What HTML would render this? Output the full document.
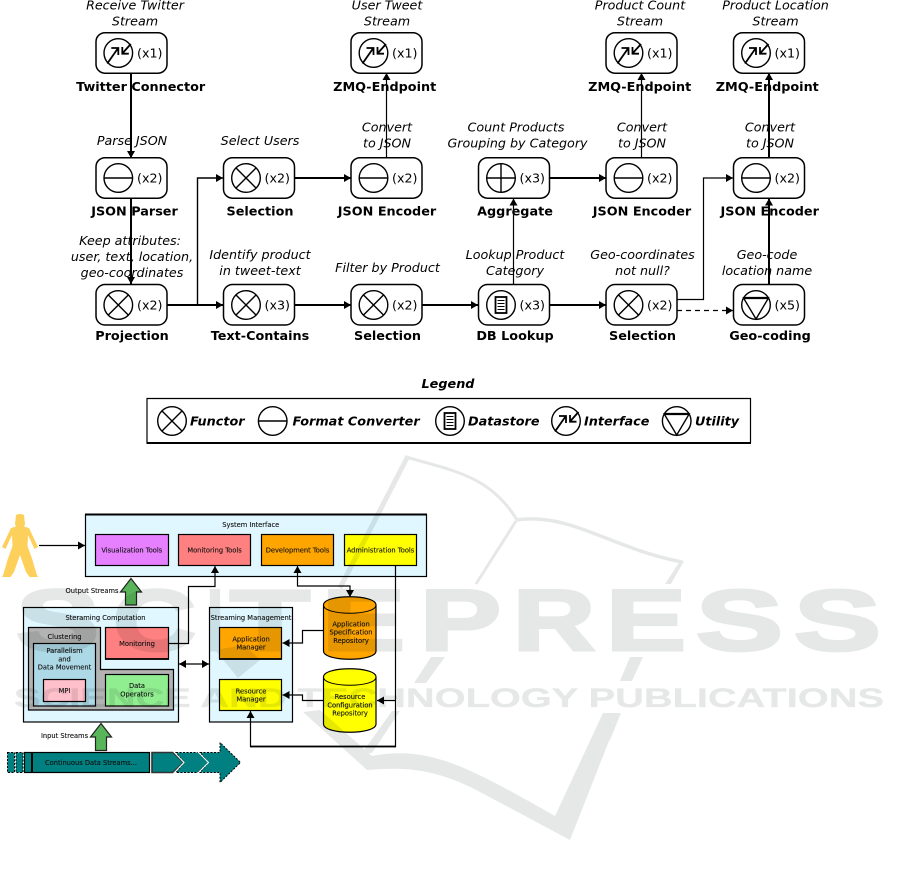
<!DOCTYPE html>
<html><head><meta charset="utf-8"><style>
html,body{margin:0;padding:0;background:#fff}
svg{display:block}
text{font-family:"DejaVu Sans",sans-serif;fill:#000}
.n{font-size:12.7px;text-anchor:middle;font-style:italic}
.b{font-size:12.8px;text-anchor:middle;font-weight:bold}
.c{font-size:12.7px;text-anchor:start}
.l{font-size:12.8px;font-weight:bold;font-style:italic}
.s{font-size:6.7px;text-anchor:middle;fill:#111;stroke:#111;stroke-width:.12}
.box{fill:#fff;stroke:#000;stroke-width:1.5}
.ic{fill:none;stroke:#000;stroke-width:1.4}
.t{fill:none;stroke:#000;stroke-width:1.2}
.k{fill:none;stroke:#000;stroke-width:2}
.d{stroke:#000;stroke-width:1.2}
.wm{font-family:"Liberation Sans",sans-serif;font-weight:bold;fill:#e6e8e7;stroke:#e6e8e7}
</style></head><body>
<svg width="901" height="881" viewBox="0 0 901 881" xmlns="http://www.w3.org/2000/svg">
<defs>
<marker id="a" viewBox="0 0 7 8" refX="7" refY="4" markerWidth="7" markerHeight="8" markerUnits="userSpaceOnUse" orient="auto-start-reverse"><path d="M0 0L7 4L0 8z" fill="#000"/></marker>
<g id="fun"><circle r="14.3" class="ic"/><path d="M-10.1-10.1L10.1 10.1M-10.1 10.1L10.1-10.1" class="ic"/></g>
<g id="fmt"><circle r="14.3" class="ic"/><path d="M-14.3 0H14.3" class="ic"/></g>
<g id="agg"><circle r="14.3" class="ic"/><path d="M-14.3 0H14.3M0-14.3V14.3" class="ic"/></g>
<g id="int"><circle r="14.3" class="ic"/><path d="M-11 10.500L-.5-4.500M-7-5H0V2" class="ic" style="stroke-width:1.8"/><path d="M12.500-9L4 .5M4-6V.7H10.500" class="ic" style="stroke-width:1.8"/></g>
<g id="dbs"><circle r="14.3" class="ic"/><rect x="-5.500" y="-8" width="11" height="16" fill="#fff" stroke="#000" style="stroke-width:1.8"/><path d="M-3.500-4.500H3.500M-3.500-1.500H3.500M-3.500 1.500H3.500M-3.500 4.500H3.500" class="ic" style="stroke-width:1"/></g>
<g id="utl"><circle r="14.3" class="ic"/><path d="M-12.500-7H12.500L0 14z" class="ic"/><path d="M-12.500-7H12.500" class="ic" style="stroke-width:2.2"/></g>
<rect id="nd" width="71" height="40.500" rx="9" ry="9" class="box"/>
</defs>

<!-- connectors top -->
<path d="M131 73V158" class="k" marker-end="url(#a)"/>
<path d="M131 198V284" class="k" marker-end="url(#a)"/>
<path d="M167 305H223" class="k" marker-end="url(#a)"/>
<path d="M197.500 305V178H223" class="k" style="stroke-width:1.4" marker-end="url(#a)"/>
<path d="M285 178H351" class="k" marker-end="url(#a)"/>
<path d="M386.500 158V73" class="t" marker-end="url(#a)"/>
<path d="M294 305H351" class="k" marker-end="url(#a)"/>
<path d="M422 305H478" class="k" marker-end="url(#a)"/>
<path d="M549 305H606" class="k" marker-end="url(#a)"/>
<path d="M513.500 284V198.500" class="t" marker-end="url(#a)"/>
<path d="M549 178H606" class="k" marker-end="url(#a)"/>
<path d="M641.500 158V73" class="t" marker-end="url(#a)"/>
<path d="M677 299.500H703.500V178H733" class="t" marker-end="url(#a)"/>
<path d="M677 310.500H733" class="t" stroke-dasharray="5 4" marker-end="url(#a)"/>
<path d="M769 284V198.500" class="k" marker-end="url(#a)"/>
<path d="M769 158V73" class="k" marker-end="url(#a)"/>

<!-- nodes -->
<g>
<use href="#nd" x="96" y="32.700"/><use href="#int" x="118.300" y="53"/><text class="c" x="137" y="57.500">(x1)</text>
<use href="#nd" x="351" y="32.700"/><use href="#int" x="373.500" y="53"/><text class="c" x="392" y="57.500">(x1)</text>
<use href="#nd" x="606" y="32.700"/><use href="#int" x="628.500" y="53"/><text class="c" x="647" y="57.500">(x1)</text>
<use href="#nd" x="733.500" y="32.700"/><use href="#int" x="756" y="53"/><text class="c" x="774.500" y="57.500">(x1)</text>

<use href="#nd" x="96" y="157.700"/><use href="#fmt" x="118.300" y="178"/><text class="c" x="137" y="182.500">(x2)</text>
<use href="#nd" x="223.500" y="157.700"/><use href="#fun" x="246" y="178"/><text class="c" x="264.500" y="182.500">(x2)</text>
<use href="#nd" x="351" y="157.700"/><use href="#fmt" x="373.500" y="178"/><text class="c" x="392" y="182.500">(x2)</text>
<use href="#nd" x="478.500" y="157.700"/><use href="#agg" x="501" y="178"/><text class="c" x="519.500" y="182.500">(x3)</text>
<use href="#nd" x="606" y="157.700"/><use href="#fmt" x="628.500" y="178"/><text class="c" x="647" y="182.500">(x2)</text>
<use href="#nd" x="733.500" y="157.700"/><use href="#fmt" x="756" y="178"/><text class="c" x="774.500" y="182.500">(x2)</text>

<use href="#nd" x="96" y="284.500"/><use href="#fun" x="118.300" y="305"/><text class="c" x="137" y="309.500">(x2)</text>
<use href="#nd" x="223.500" y="284.500"/><use href="#fun" x="246" y="305"/><text class="c" x="264.500" y="309.500">(x3)</text>
<use href="#nd" x="351" y="284.500"/><use href="#fun" x="373.500" y="305"/><text class="c" x="392" y="309.500">(x2)</text>
<use href="#nd" x="478.500" y="284.500"/><use href="#dbs" x="501" y="305"/><text class="c" x="519.500" y="309.500">(x3)</text>
<use href="#nd" x="606" y="284.500"/><use href="#fun" x="628.500" y="305"/><text class="c" x="647" y="309.500">(x2)</text>
<use href="#nd" x="733.500" y="284.500"/><use href="#utl" x="756" y="305"/><text class="c" x="774.500" y="309.500">(x5)</text>
</g>

<!-- top labels -->
<g>
<text class="n" x="135" y="9.500">Receive Twitter</text><text class="n" x="135" y="25.500">Stream</text>
<text class="n" x="387" y="9.500">User Tweet</text><text class="n" x="387" y="25.500">Stream</text>
<text class="n" x="640" y="9.500">Product Count</text><text class="n" x="640" y="25.500">Stream</text>
<text class="n" x="775.500" y="9.500">Product Location</text><text class="n" x="775.500" y="25.500">Stream</text>
<text class="n" x="132" y="145">Parse JSON</text>
<text class="n" x="260" y="145">Select Users</text>
<text class="n" x="387" y="131.500">Convert</text><text class="n" x="387" y="147.500">to JSON</text>
<text class="n" x="516" y="131.500">Count Products</text><text class="n" x="517.500" y="147.500">Grouping by Category</text>
<text class="n" x="642" y="131.500">Convert</text><text class="n" x="642" y="147.500">to JSON</text>
<text class="n" x="770" y="131.500">Convert</text><text class="n" x="770" y="147.500">to JSON</text>
<text class="n" x="130" y="245">Keep attributes:</text><text class="n" x="132" y="261">user, text, location,</text><text class="n" x="132" y="277">geo-coordinates</text>
<text class="n" x="260" y="259">Identify product</text><text class="n" x="260" y="275">in tweet-text</text>
<text class="n" x="387.500" y="272">Filter by Product</text>
<text class="n" x="515" y="259">Lookup Product</text><text class="n" x="515" y="275">Category</text>
<text class="n" x="642.500" y="259">Geo-coordinates</text><text class="n" x="642.500" y="275">not null?</text>
<text class="n" x="767" y="259">Geo-code</text><text class="n" x="767" y="275">location name</text>

<text class="b" x="140.700" y="91">Twitter Connector</text>
<text class="b" x="384.700" y="91">ZMQ-Endpoint</text>
<text class="b" x="639.700" y="91">ZMQ-Endpoint</text>
<text class="b" x="767.300" y="91">ZMQ-Endpoint</text>
<text class="b" x="134.500" y="215.500">JSON Parser</text>
<text class="b" x="260" y="215.500">Selection</text>
<text class="b" x="387" y="215.500">JSON Encoder</text>
<text class="b" x="515" y="215.500">Aggregate</text>
<text class="b" x="642" y="215.500">JSON Encoder</text>
<text class="b" x="769.700" y="215.500">JSON Encoder</text>
<text class="b" x="132" y="340">Projection</text>
<text class="b" x="260" y="340">Text-Contains</text>
<text class="b" x="387.500" y="340">Selection</text>
<text class="b" x="515" y="340">DB Lookup</text>
<text class="b" x="642.500" y="340">Selection</text>
<text class="b" x="770" y="340">Geo-coding</text>
</g>

<!-- legend -->
<text class="l" x="448" y="388" text-anchor="middle">Legend</text>
<path d="M147 443V398.500H750.500V443" fill="#fff" stroke="#000" stroke-width="1.2"/>
<path d="M146.500 443H751" stroke="#000" stroke-width="2"/>
<use href="#fun" x="172" y="421"/><text class="l" x="190" y="425.500">Functor</text>
<use href="#fmt" x="272.700" y="421"/><text class="l" x="292.500" y="425.500">Format Converter</text>
<use href="#dbs" x="450" y="421"/><text class="l" x="468" y="425.500">Datastore</text>
<use href="#int" x="566" y="421"/><text class="l" x="584" y="425.500">Interface</text>
<use href="#utl" x="676.700" y="421"/><text class="l" x="695" y="425.500">Utility</text>

<!-- lower diagram -->
<path d="M16 515Q20 513 24 515L25 524L24 526.500L29 528L38 547L34.500 549L28 535L27.500 546L32.500 560L36.500 574L38 577H29.500L26 572L20 555L14 572L10.500 577H2L3.500 574L7.500 560L12.500 546L12 535L5.500 549L2 547L11 528L16 526.500L15 524z" fill="#fdd05c"/>
<path d="M39 545.500H85" class="t" marker-end="url(#a)"/>

<rect x="85.500" y="514.500" width="341" height="62" fill="#e0f7ff" class="d"/>
<path d="M85 514.500H427" stroke="#000" stroke-width="2"/>
<text class="s" x="250.800" y="527">System Interface</text>
<rect x="95.500" y="534.500" width="73" height="31" fill="#e680ff" class="d"/><text class="s" x="131.800" y="552.500">Visualization Tools</text>
<rect x="178.500" y="534.500" width="72" height="31" fill="#ff8080" class="d"/><text class="s" x="214.500" y="552.500">Monitoring Tools</text>
<rect x="261.500" y="534.500" width="72" height="31" fill="#ffa500" class="d"/><text class="s" x="297.500" y="552.500">Development Tools</text>
<rect x="344.500" y="534.500" width="72" height="31" fill="#ffff00" class="d"/><text class="s" x="380.500" y="552.500">Administration Tools</text>

<text class="s" x="92" y="593">Output Streams</text>
<path d="M120.500 592L131 578.500L141.500 592H136.500V605H125.500V592z" fill="#59b559" stroke="#222" stroke-width="1.200"/>

<rect x="23.500" y="607.500" width="155" height="114.500" fill="#e0f7ff" class="d"/>
<text class="s" x="105.500" y="620">Steraming Computation</text>
<path d="M28.500 627.500H100.500V669.500H173.500V710H28.500z" fill="#b3b3b3" class="d"/>
<text class="s" x="64.500" y="639">Clustering</text>
<rect x="33.500" y="643.500" width="62" height="62.500" fill="#add8e6" class="d"/>
<text class="s" x="64.500" y="653">Parallelism</text><text class="s" x="64.500" y="661.500">and</text><text class="s" x="64.500" y="669.500">Data Movement</text>
<rect x="43.500" y="679.500" width="42" height="22" fill="#ffc0cb" class="d"/><text class="s" x="64.500" y="693">MPI</text>
<rect x="105.500" y="627.500" width="63" height="31.500" fill="#ff8080" class="d"/><path d="M105 659H169" stroke="#000" stroke-width="1.800"/>
<text class="s" x="137" y="646">Monitoring</text>
<rect x="105.500" y="674.500" width="63" height="31.500" fill="#90ee90" class="d"/>
<text class="s" x="137" y="688">Data</text><text class="s" x="137" y="696.500">Operators</text>

<path d="M169 643.500H188.500V586.500H215V566" class="t" marker-end="url(#a)"/>
<path d="M179 664H209" class="t" marker-start="url(#a)" marker-end="url(#a)"/>

<rect x="209.500" y="607.500" width="83" height="114.500" fill="#e0f7ff" class="d"/>
<text class="s" x="251" y="620">Streaming Management</text>
<rect x="219.500" y="627.500" width="62" height="31.500" fill="#ffa500" class="d"/><path d="M219 659H282" stroke="#000" stroke-width="1.800"/>
<text class="s" x="251" y="641.500">Application</text><text class="s" x="251" y="649.500">Manager</text>
<rect x="219.500" y="679.500" width="62" height="31" fill="#ffff00" class="d"/>
<text class="s" x="251" y="693.500">Resource</text><text class="s" x="251" y="701.500">Manager</text>

<path d="M297.500 566V586H350V597" class="t" marker-start="url(#a)" marker-end="url(#a)"/>
<path d="M323 630.500H302.500V643H282.500" class="t" marker-end="url(#a)"/>
<path d="M323 700.500H302.500V695H282.500" class="t" marker-end="url(#a)"/>
<path d="M395.500 566V746.500H250.500V711" class="t" marker-end="url(#a)"/>
<path d="M250 746.500H396" stroke="#000" stroke-width="1.800"/>
<path d="M395.500 700.500H377" class="t" marker-end="url(#a)"/>

<path d="M323.500 605C323.500 594 376 594 376 605V651C376 662 323.500 662 323.500 651z" fill="#ffa500" stroke="#000" stroke-width="1.200"/>
<path d="M323.500 605C323.500 616 376 616 376 605" fill="none" stroke="#000" stroke-width="1"/>
<text class="s" x="351" y="626.500">Application</text><text class="s" x="351" y="634.500">Specification</text><text class="s" x="351" y="643">Repository</text>
<path d="M323.500 677C323.500 666 376 666 376 677V724C376 735 323.500 735 323.500 724z" fill="#ffff00" stroke="#000" stroke-width="1.200"/>
<path d="M323.500 677C323.500 688 376 688 376 677" fill="none" stroke="#000" stroke-width="1"/>
<text class="s" x="350" y="699">Resource</text><text class="s" x="350" y="707.500">Configuration</text><text class="s" x="350" y="715.500">Repository</text>

<text class="s" x="64.500" y="738">Input Streams</text>
<path d="M90.500 737L101 723.500L111.500 737H106.500V750.500H95.500V737z" fill="#59b559" stroke="#222" stroke-width="1.200"/>

<g fill="#008080">
<rect x="7.500" y="752.500" width="7" height="20" stroke="#000" stroke-width="1" stroke-dasharray="2 1.500"/>
<rect x="16" y="752.500" width="7" height="20" stroke="#000" stroke-width="1" stroke-dasharray="2 1.500"/>
<rect x="24.500" y="752.500" width="125" height="20" stroke="#000" stroke-width="1.200"/>
<path d="M32 752V773" stroke="#000" stroke-width="2"/>
<path d="M176 752.500H198L208.500 762.500L198 772.500H176L184 762.500z" stroke="#000" stroke-width="1" stroke-dasharray="2 1.500"/>
<path d="M200 752.500H220V742.500L240.500 762.500L220 782.500V772.500H200L208.500 762.500z" stroke="#000" stroke-width="1" stroke-dasharray="2 1.500"/>
<path d="M152 752.500H173L183.500 762.500L173 772.500H152z" stroke="#333" stroke-width="1.600"/>
<path d="M173 751L184 762.500L173 774M197 751L208.500 762.500L197 774" fill="none" stroke="#fff" stroke-width="1.100"/>
</g>
<text class="s" x="91" y="765">Continuous Data Streams...</text>

<!-- watermark -->
<g style="mix-blend-mode:multiply">
<g fill="none" stroke="#e6e8e7">
<path d="M406 457C450 470 490 475 517 520" stroke-width="3"/>
<path d="M516 520C570 512 610 548 682 562" stroke-width="3.500"/>
<path d="M516 521L476 584" stroke-width="3"/>
<path d="M408 456L340 588" stroke-width="5"/>
</g>
<g fill="#e6e8e7">
<path d="M680 561H684L671 584H665z"/>
<path d="M630 657H643L632 681H620z"/>
<path d="M603 713H621L610 740H591z"/>
<path d="M431 657H445L426 683H414z"/>
<path d="M303 712L320 710L372 756C430 745 470 768 555 816L603 713H620L570 840L480 792C430 765 395 768 367 770z"/>
<path d="M392 711H400L372 753H362z"/>
<path d="M215 650L245 645L260 660L238 678z"/>
</g>
<text class="wm" font-size="86" stroke-width="3" x="16" y="650" textLength="83" lengthAdjust="spacingAndGlyphs">S</text>
<text class="wm" font-size="86" stroke-width="3" x="113" y="650" textLength="83" lengthAdjust="spacingAndGlyphs">C</text>
<text class="wm" font-size="86" stroke-width="3" x="207" y="650" textLength="16" lengthAdjust="spacingAndGlyphs">I</text>
<text class="wm" font-size="86" stroke-width="3" x="230" y="650" textLength="80" lengthAdjust="spacingAndGlyphs">T</text>
<text class="wm" font-size="86" stroke-width="3" x="322" y="650" textLength="83" lengthAdjust="spacingAndGlyphs">E</text>
<text class="wm" font-size="86" stroke-width="3" x="420" y="650" textLength="81" lengthAdjust="spacingAndGlyphs">P</text>
<text class="wm" font-size="86" stroke-width="3" x="513" y="650" textLength="82" lengthAdjust="spacingAndGlyphs">R</text>
<text class="wm" font-size="86" stroke-width="3" x="606" y="650" textLength="80" lengthAdjust="spacingAndGlyphs">E</text>
<text class="wm" font-size="86" stroke-width="3" x="696" y="650" textLength="87" lengthAdjust="spacingAndGlyphs">S</text>
<text class="wm" font-size="86" stroke-width="3" x="794" y="650" textLength="87" lengthAdjust="spacingAndGlyphs">S</text>
<text class="wm" font-size="27" stroke-width=".3" x="14" y="707" textLength="870" lengthAdjust="spacingAndGlyphs">SCIENCE AND TECHNOLOGY PUBLICATIONS</text>
</g>
</svg>
</body></html>
